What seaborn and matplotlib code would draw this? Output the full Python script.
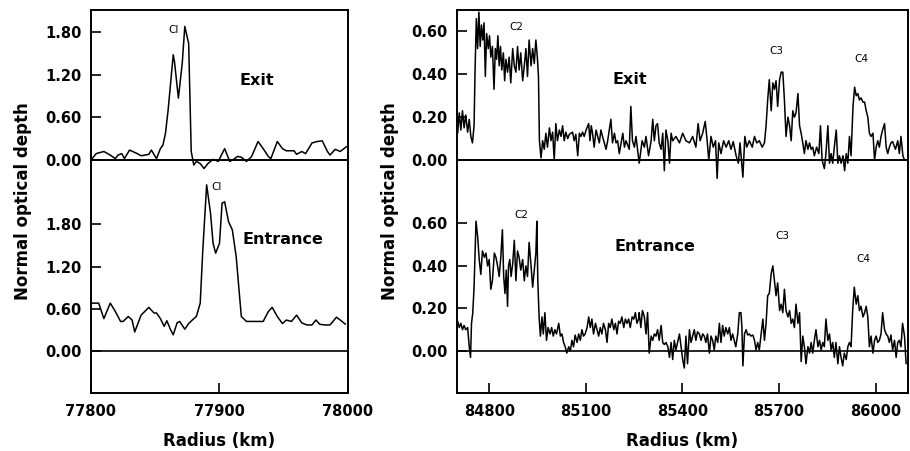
import matplotlib
matplotlib.use("Agg")
import matplotlib.pyplot as plt
import seaborn as sns
from matplotlib.ticker import FormatStrFormatter

# ---------------- data ----------------
# Left panel (ring C1), exit profile
lx_exit = [77800, 77804, 77810, 77814, 77819, 77821, 77824, 77826, 77830, 77836,
           77839, 77845, 77847, 77851, 77854, 77856, 77858, 77860, 77864, 77865,
           77868, 77871, 77873, 77876, 77878, 77880, 77882, 77885, 77888, 77891,
           77895, 77899, 77904, 77908, 77911, 77914, 77917, 77921, 77925, 77930,
           77934, 77938, 77940, 77945, 77949, 77952, 77958, 77960, 77964, 77967,
           77972, 77976, 77980, 77984, 77986, 77990, 77994, 77999]
ly_exit = [0.00, 0.09, 0.12, 0.08, 0.02, 0.07, 0.09, 0.02, 0.14, 0.09,
           0.06, 0.08, 0.14, 0.02, 0.16, 0.21, 0.38, 0.70, 1.48, 1.38,
           0.87, 1.36, 1.88, 1.64, 0.12, -0.07, -0.02, -0.05, -0.12, -0.05,
           0.01, -0.02, 0.16, -0.02, 0.01, 0.05, 0.04, -0.02, 0.05, 0.26,
           0.16, 0.05, 0.02, 0.26, 0.16, 0.13, 0.13, 0.08, 0.12, 0.09,
           0.24, 0.26, 0.27, 0.12, 0.07, 0.15, 0.12, 0.19]

# Left panel (ring C1), entrance profile
lx_ent = [77800, 77806, 77810, 77815, 77819, 77823, 77825, 77829, 77832, 77834,
          77839, 77845, 77849, 77851, 77854, 77857, 77859, 77862, 77864, 77867,
          77869, 77873, 77876, 77880, 77882, 77885, 77887, 77890, 77893, 77895,
          77897, 77900, 77902, 77904, 77907, 77910, 77913, 77915, 77917, 77921,
          77934, 77938, 77941, 77945, 77949, 77952, 77956, 77960, 77964, 77968,
          77972, 77975, 77978, 77982, 77986, 77991, 77994, 77998]
ly_ent = [0.68, 0.68, 0.46, 0.68, 0.56, 0.42, 0.42, 0.49, 0.44, 0.27,
          0.51, 0.62, 0.54, 0.54, 0.46, 0.35, 0.43, 0.30, 0.23, 0.40,
          0.42, 0.31, 0.39, 0.46, 0.49, 0.68, 1.43, 2.36, 1.96, 1.53,
          1.39, 1.53, 2.10, 2.12, 1.84, 1.72, 1.34, 0.91, 0.49, 0.42,
          0.42, 0.56, 0.62, 0.49, 0.39, 0.44, 0.42, 0.51, 0.40, 0.37,
          0.37, 0.44, 0.38, 0.37, 0.37, 0.48, 0.44, 0.38]

# Right panel (rings C2-C4), exit profile
rx_exit = [84702, 84707, 84712, 84717, 84722, 84727, 84733, 84738, 84743, 84748,
           84753, 84756, 84760, 84764, 84768, 84772, 84776, 84780, 84784, 84788,
           84792, 84797, 84801, 84805, 84810, 84815, 84819, 84823, 84827, 84831,
           84835, 84839, 84844, 84848, 84852, 84857, 84862, 84867, 84873, 84878,
           84883, 84888, 84893, 84898, 84904, 84909, 84914, 84919, 84924, 84930,
           84935, 84940, 84945, 84950, 84953, 84956, 84961, 84966, 84971, 84976,
           84981, 84987, 84992, 84997, 85002, 85007, 85012, 85018, 85023, 85028,
           85033, 85038, 85044, 85049, 85059, 85064, 85069, 85075, 85080, 85085,
           85090, 85095, 85101, 85109, 85113, 85117, 85121, 85126, 85132, 85137,
           85142, 85147, 85152, 85163, 85168, 85178, 85183, 85189, 85194, 85199,
           85204, 85215, 85220, 85225, 85235, 85240, 85245, 85251, 85256, 85266,
           85275, 85282, 85287, 85295, 85303, 85308, 85313, 85318, 85323, 85328,
           85334, 85339, 85344, 85349, 85355, 85360, 85365, 85370, 85380, 85391,
           85401, 85411, 85422, 85432, 85442, 85449, 85455, 85463, 85471, 85477,
           85482, 85489, 85496, 85503, 85508, 85513, 85520, 85528, 85536, 85544,
           85551, 85558, 85567, 85574, 85579, 85588, 85594, 85600, 85608, 85617,
           85624, 85631, 85639, 85648, 85655, 85660, 85665, 85670, 85676, 85681,
           85686, 85691, 85696, 85702, 85707, 85712, 85717, 85722, 85728, 85733,
           85738, 85743, 85748, 85753, 85759, 85764, 85769, 85774, 85779, 85784,
           85790, 85795, 85800, 85805, 85810, 85817, 85824, 85829, 85834, 85841,
           85846, 85852, 85857, 85862, 85867, 85872, 85878, 85883, 85888, 85893,
           85899, 85904, 85909, 85914, 85919, 85924, 85930, 85935, 85940, 85945,
           85950, 85955, 85961, 85966, 85971, 85976, 85981, 85986, 85992, 85997,
           86002, 86007, 86012, 86017, 86022, 86028, 86033, 86038, 86043, 86048,
           86053, 86062, 86069, 86074, 86079, 86085, 86090]
ry_exit = [0.125, 0.22, 0.14, 0.23, 0.15, 0.21, 0.13, 0.19, 0.11, 0.08,
           0.16, 0.41, 0.66, 0.52, 0.69, 0.53, 0.63, 0.56, 0.64, 0.39,
           0.59, 0.52, 0.58, 0.48, 0.53, 0.33, 0.52, 0.47, 0.58, 0.44,
           0.53, 0.42, 0.50, 0.37, 0.47, 0.41, 0.48, 0.36, 0.52, 0.44,
           0.41, 0.53, 0.42, 0.50, 0.37, 0.44, 0.52, 0.39, 0.56, 0.44,
           0.52, 0.45, 0.56, 0.47, 0.39, 0.09, 0.01, 0.09, 0.05, 0.125,
           0.06, 0.15, 0.09, 0.13, 0.00, 0.17, 0.09, 0.14, 0.11, 0.16,
           0.09, 0.13, 0.10, 0.12, 0.13, 0.09, 0.12, 0.02, 0.125, 0.11,
           0.13, 0.11, 0.14, 0.17, 0.09, 0.16, 0.125, 0.06, 0.14, 0.11,
           0.08, 0.14, 0.11, 0.05, 0.09, 0.19, 0.08, 0.125, 0.08, 0.09,
           0.03, 0.125, 0.06, 0.09, 0.05, 0.25, 0.09, 0.06, 0.11, -0.015,
           0.09, 0.06, 0.11, 0.02, 0.09, 0.19, 0.09, 0.16, 0.17, 0.08,
           0.05, 0.125, -0.05, 0.14, 0.09, -0.015, 0.125, 0.09, 0.11, 0.08,
           0.125, 0.09, 0.08, 0.11, 0.06, 0.17, 0.09, 0.125, 0.18, 0.09,
           0.00, 0.11, 0.06, 0.09, -0.086, 0.08, 0.03, 0.09, 0.06, 0.09,
           0.05, 0.086, 0.02, -0.015, 0.08, -0.08, 0.11, 0.06, 0.09, 0.06,
           0.11, 0.08, 0.09, 0.06, 0.08, 0.16, 0.28, 0.375, 0.23, 0.36,
           0.33, 0.37, 0.25, 0.375, 0.41, 0.41, 0.28, 0.11, 0.20, 0.16,
           0.09, 0.23, 0.20, 0.22, 0.31, 0.16, 0.125, 0.08, 0.03, 0.09,
           0.05, 0.08, 0.05, 0.06, 0.02, 0.06, 0.03, 0.16, 0.00, -0.04,
           0.03, 0.16, -0.015, 0.03, -0.015, 0.06, 0.14, -0.015, 0.02, -0.015,
           0.02, -0.05, 0.03, -0.015, 0.11, 0.02, 0.25, 0.34, 0.30, 0.31,
           0.28, 0.29, 0.27, 0.27, 0.23, 0.20, 0.125, 0.11, 0.125, 0.00,
           0.06, 0.09, 0.06, 0.11, 0.14, 0.17, 0.06, 0.03, 0.06, 0.08,
           0.086, 0.05, 0.09, 0.03, 0.11, 0.02, 0.00]

# Right panel (rings C2-C4), entrance profile
rx_ent = [84702, 84707, 84712, 84717, 84722, 84727, 84733, 84738, 84742, 84745,
          84749, 84753, 84759, 84764, 84769, 84774, 84779, 84785, 84790, 84795,
          84800, 84805, 84810, 84816, 84821, 84826, 84831, 84836, 84841, 84845,
          84849, 84853, 84857, 84860, 84864, 84868, 84873, 84878, 84883, 84888,
          84893, 84898, 84904, 84909, 84914, 84919, 84924, 84930, 84935, 84940,
          84945, 84948, 84951, 84955, 84959, 84964, 84968, 84973, 84978, 84983,
          84989, 84994, 84999, 85004, 85009, 85016, 85021, 85026, 85031, 85036,
          85041, 85047, 85052, 85057, 85062, 85067, 85073, 85078, 85083, 85088,
          85093, 85098, 85104, 85109, 85114, 85119, 85124, 85130, 85135, 85140,
          85145, 85150, 85155, 85161, 85166, 85171, 85176, 85181, 85187, 85192,
          85197, 85202, 85207, 85212, 85218, 85223, 85228, 85233, 85238, 85244,
          85249, 85254, 85259, 85264, 85266, 85271, 85276, 85282, 85287, 85292,
          85297, 85303, 85308, 85313, 85318, 85323, 85328, 85334, 85339, 85344,
          85349, 85355, 85360, 85365, 85370, 85375, 85380, 85385, 85391, 85396,
          85401, 85406, 85411, 85416, 85422, 85427, 85432, 85437, 85442, 85447,
          85453, 85458, 85463, 85468, 85473, 85478, 85484, 85489, 85494, 85499,
          85504, 85510, 85515, 85520, 85525, 85530, 85535, 85541, 85546, 85551,
          85556, 85561, 85566, 85572, 85577, 85582, 85585, 85588, 85593, 85598,
          85603, 85608, 85613, 85619, 85624, 85629, 85634, 85639, 85644, 85650,
          85655, 85660, 85665, 85670, 85676, 85681, 85686, 85691, 85696, 85702,
          85707, 85712, 85717, 85722, 85728, 85733, 85738, 85743, 85748, 85753,
          85759, 85764, 85769, 85774, 85779, 85784, 85790, 85795, 85800, 85805,
          85810, 85815, 85821, 85826, 85831, 85836, 85841, 85846, 85852, 85857,
          85862, 85867, 85872, 85877, 85883, 85888, 85893, 85898, 85903, 85909,
          85914, 85919, 85924, 85929, 85934, 85940, 85945, 85950, 85955, 85961,
          85966, 85971, 85976, 85981, 85986, 85992, 85997, 86002, 86007, 86012,
          86017, 86022, 86028, 86033, 86038, 86043, 86048, 86053, 86059, 86064,
          86069, 86074, 86079, 86084, 86090, 86095]
ry_ent = [0.14, 0.11, 0.13, 0.10, 0.12, 0.10, 0.11, 0.02, -0.03, 0.13,
          0.18, 0.30, 0.61, 0.54, 0.43, 0.36, 0.47, 0.44, 0.46, 0.40,
          0.43, 0.29, 0.33, 0.46, 0.44, 0.40, 0.35, 0.44, 0.57, 0.35,
          0.27, 0.38, 0.21, 0.40, 0.43, 0.35, 0.41, 0.52, 0.33, 0.47,
          0.44, 0.38, 0.43, 0.33, 0.40, 0.35, 0.51, 0.40, 0.30, 0.38,
          0.46, 0.61, 0.33, 0.16, 0.07, 0.16, 0.08, 0.18, 0.05, 0.11,
          0.08, 0.11, 0.07, 0.10, 0.08, 0.13, 0.07, 0.08, 0.04, 0.02,
          -0.01, 0.02, 0.00, 0.05, 0.02, 0.075, 0.04, 0.08, 0.05, 0.10,
          0.07, 0.08, 0.11, 0.16, 0.11, 0.15, 0.08, 0.13, 0.10, 0.07,
          0.11, 0.08, 0.13, 0.10, 0.04, 0.13, 0.11, 0.15, 0.10, 0.13,
          0.08, 0.14, 0.13, 0.16, 0.11, 0.15, 0.13, 0.15, 0.11, 0.16,
          0.15, 0.18, 0.13, 0.15, 0.18, 0.11, 0.19, 0.16, 0.08, 0.18,
          -0.01, 0.07, 0.05, 0.08, 0.07, 0.10, 0.05, 0.12, 0.04, 0.03,
          0.04, 0.02, -0.03, 0.04, -0.04, 0.05, 0.005, 0.04, 0.08, 0.02,
          -0.04, -0.08, 0.07, -0.06, 0.10, 0.04, 0.07, 0.10, 0.05, 0.09,
          0.08, 0.05, 0.08, 0.07, 0.04, 0.08, -0.01, 0.07, 0.05, 0.005,
          0.07, 0.04, 0.13, 0.04, 0.12, 0.07, 0.11, 0.08, 0.11, 0.05,
          0.08, 0.05, 0.02, 0.08, 0.18, 0.18, 0.11, -0.07, 0.08, 0.10,
          0.075, 0.08, 0.07, 0.075, 0.05, 0.005, 0.04, 0.005, 0.07, 0.15,
          0.05, 0.13, 0.26, 0.27, 0.365, 0.40, 0.33, 0.26, 0.32, 0.19,
          0.22, 0.18, 0.29, 0.19, 0.16, 0.19, 0.13, 0.15, 0.11, 0.22,
          0.13, 0.18, -0.05, 0.07, 0.02, -0.06, 0.02, -0.01, 0.04, -0.01,
          0.05, 0.10, 0.02, 0.05, 0.005, 0.04, 0.02, 0.15, 0.05, 0.08,
          0.005, 0.04, -0.03, 0.04, -0.06, 0.02, -0.03, -0.07, -0.01, -0.04,
          0.02, 0.04, 0.02, 0.19, 0.30, 0.22, 0.26, 0.19, 0.21, 0.16,
          0.18, 0.21, 0.16, 0.02, 0.07, -0.01, 0.05, 0.07, 0.04, 0.05,
          0.08, 0.18, 0.10, 0.08, 0.07, 0.04, 0.075, 0.005, 0.05, -0.03,
          0.04, 0.05, 0.02, 0.13, 0.07, -0.06]

left_yticks = [0.0, 0.6, 1.2, 1.8]
left_xticks = [77800, 77900, 78000]
right_yticks = [0.0, 0.2, 0.4, 0.6]
right_xticks = [84800, 85100, 85400, 85700, 86000]

# ---------------- figure ----------------
sns.set_style("ticks")
plt.rcParams['font.family'] = ['DejaVu Sans']
plt.rcParams['font.weight'] = 'bold'
plt.rcParams['text.color'] = 'black'
plt.rcParams['axes.labelcolor'] = 'black'
plt.rcParams['xtick.color'] = 'black'
plt.rcParams['ytick.color'] = 'black'

fig = plt.figure(figsize=(9.1, 4.51), dpi=100)
fig.patch.set_facecolor('white')

L0, LW = 0.1, 0.2824
R0, RW = 0.5022, 0.4953
TB, TH = 0.6452, 0.3326
BB, BH = 0.1293, 0.5159

ax_lt = fig.add_axes([L0, TB, LW, TH], zorder=3)
ax_lb = fig.add_axes([L0, BB, LW, BH], zorder=2)
ax_rt = fig.add_axes([R0, TB, RW, TH], zorder=3)
ax_rb = fig.add_axes([R0, BB, RW, BH], zorder=2)


def style(ax, xlim, ylim, yticks, xticks, top):
    ax.set_facecolor('none')
    ax.set_xlim(*xlim)
    ax.set_ylim(*ylim)
    for s in ax.spines.values():
        s.set_linewidth(1.4)
        s.set_color('black')
    ax.set_yticks(yticks)
    ax.yaxis.set_major_formatter(FormatStrFormatter('%.2f'))
    ax.tick_params(axis='y', direction='in', length=7, width=1.2,
                   labelsize=10.5, pad=7, colors='black')
    if top:
        ax.set_xticks([])
    else:
        ax.spines['top'].set_visible(False)
        ax.set_xticks(xticks)
        ax.tick_params(axis='x', direction='in', length=7, width=1.2,
                       labelsize=10.5, pad=8, colors='black')
        ax.axhline(0, color='black', lw=1.2, zorder=1)
    ax.set_xlabel('')
    ax.set_ylabel('')


line_kw = dict(color='black', linewidth=1.1, estimator=None, sort=False)

sns.lineplot(x=lx_exit, y=ly_exit, ax=ax_lt, clip_on=False, **line_kw)
sns.lineplot(x=lx_ent, y=ly_ent, ax=ax_lb, **line_kw)
sns.lineplot(x=rx_exit, y=ry_exit, ax=ax_rt, clip_on=False, **line_kw)
sns.lineplot(x=rx_ent, y=ry_ent, ax=ax_rb, **line_kw)

style(ax_lt, (77800, 78000), (0, 2.11), left_yticks, left_xticks, True)
style(ax_lb, (77800, 78000), (-0.592, 2.713), left_yticks, left_xticks, False)
style(ax_rt, (84700, 86100), (0, 0.70), right_yticks, right_xticks, True)
style(ax_rb, (84700, 86100), (-0.196, 0.8975), right_yticks, right_xticks, False)

# annotations
big = dict(fontsize=11.5, fontweight='bold', ha='center', va='center', color='black')
small = dict(fontsize=7.5, fontweight='normal', ha='center', va='center', color='black')
ax_lt.text(77929, 1.125, 'Exit', **big)
ax_lb.text(77949, 1.577, 'Entrance', **big)
ax_lt.text(77864, 1.83, 'CI', **small)
ax_lb.text(77898, 2.33, 'CI', **small)
ax_rt.text(85238, 0.375, 'Exit', **big)
ax_rb.text(85316, 0.493, 'Entrance', **big)
ax_rt.text(84884, 0.62, 'C2', **small)
ax_rt.text(85692, 0.511, 'C3', **small)
ax_rt.text(85956, 0.473, 'C4', **small)
ax_rb.text(84899, 0.639, 'C2', **small)
ax_rb.text(85711, 0.54, 'C3', **small)
ax_rb.text(85963, 0.43, 'C4', **small)

# axis titles
title_kw = dict(fontsize=12, fontweight='bold', color='black')
fig.text(0.0253, 0.554, 'Normal optical depth', rotation=90, ha='center',
         va='center', **title_kw)
fig.text(0.4286, 0.554, 'Normal optical depth', rotation=90, ha='center',
         va='center', **title_kw)
fig.text(0.241, 0.022, 'Radius (km)', ha='center', va='center', **title_kw)
fig.text(0.750, 0.022, 'Radius (km)', ha='center', va='center', **title_kw)

fig.savefig('out.png', dpi=100, facecolor='white')
